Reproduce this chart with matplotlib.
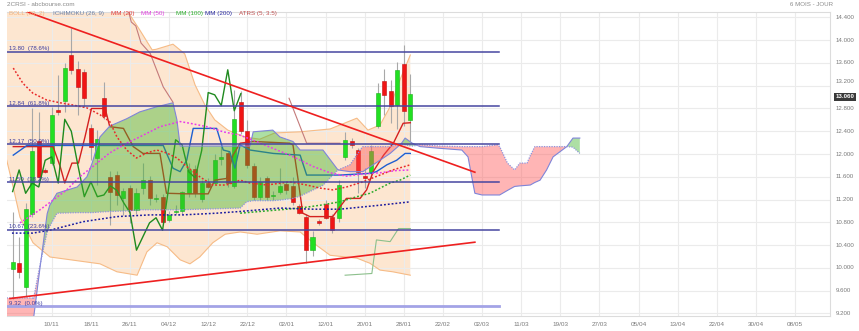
import numpy as np
import matplotlib
matplotlib.use("Agg")
import matplotlib.pyplot as plt
import matplotlib.transforms as mtransforms

plt.rcParams['font.family'] = ['Liberation Sans', 'DejaVu Sans']

# daily candles (index 0 = first session shown)
opens = [9.98, 10.08, 9.67, 10.94, 12.22, 11.71, 11.84, 12.76, 12.93, 13.74,
         13.49, 13.45, 12.46, 11.93, 12.98, 11.60, 11.63, 11.23, 11.40, 11.02,
         11.40, 11.54, 11.21, 11.25, 10.84, 10.98, 10.99, 11.31, 11.73, 11.21,
         11.49, 11.49, 11.92, 12.01, 11.43, 12.92, 12.41, 11.79, 11.25, 11.57,
         11.26, 11.34, 11.47, 11.44, 11.09, 10.90, 10.31, 10.81, 11.13, 10.90,
         10.87, 11.95, 12.23, 12.07, 11.62, 11.66, 12.49, 13.29, 13.11, 12.87,
         13.59, 12.60]
highs = [10.98, 10.55, 11.14, 12.80, 12.74, 11.75, 12.83, 13.39, 13.60, 14.21,
         13.64, 13.50, 12.52, 12.42, 13.27, 11.70, 11.70, 11.40, 11.45, 11.40,
         11.84, 11.62, 11.30, 11.30, 11.00, 11.10, 11.35, 11.85, 11.80, 11.55,
         11.58, 12.00, 12.15, 12.05, 13.12, 13.10, 12.60, 11.85, 11.60, 11.62,
         11.35, 11.75, 11.52, 11.60, 11.12, 10.95, 10.65, 10.85, 11.20, 10.95,
         11.55, 12.39, 12.28, 12.10, 11.75, 12.15, 13.25, 13.49, 13.30, 13.62,
         13.92, 13.40]
lows = [9.45, 9.82, 9.49, 10.90, 11.43, 11.66, 11.80, 12.69, 12.74, 13.40,
        12.69, 12.83, 11.90, 11.46, 12.62, 10.75, 11.10, 10.93, 10.79, 10.95,
        11.30, 11.10, 11.15, 10.78, 10.80, 10.95, 10.95, 11.25, 11.25, 11.15,
        11.40, 11.45, 11.80, 11.42, 11.40, 12.35, 11.75, 11.20, 11.20, 11.20,
        11.20, 11.30, 11.30, 11.10, 10.95, 10.08, 10.20, 10.76, 10.85, 10.62,
        10.81, 11.90, 12.10, 11.31, 11.40, 11.57, 12.45, 12.69, 12.55, 12.44,
        12.50, 12.22]
closes = [10.11, 9.92, 11.03, 12.05, 11.60, 11.69, 12.69, 12.74, 13.52, 13.48,
          13.18, 12.98, 12.13, 12.26, 12.66, 11.34, 11.28, 11.35, 11.02, 11.31,
          11.54, 11.22, 11.23, 10.80, 10.93, 10.99, 11.34, 11.72, 11.31, 11.49,
          11.42, 11.89, 11.95, 11.49, 12.61, 12.40, 11.81, 11.25, 11.51, 11.25,
          11.28, 11.44, 11.36, 11.15, 10.97, 10.31, 10.55, 10.79, 10.88, 10.66,
          11.46, 12.25, 12.16, 11.69, 11.58, 12.06, 13.08, 13.04, 12.85, 13.48,
          12.76, 13.06]
last_price = 13.06

tick_labels = ['10/11', '18/11', '26/11', '04/12', '12/12', '22/12', '02/01', '12/01',
               '20/01', '28/01', '22/02', '02/03', '11/03', '19/03', '27/03', '05/04',
               '13/04', '22/04', '30/04', '08/05']
y_labels = [9.2, 9.6, 10.0, 10.4, 10.8, 11.2, 11.6, 12.0, 12.4, 12.8, 13.2, 13.6, 14.0, 14.4]

# bollinger (20, 2)
bb_up_x = [-0.9, 10, 17.0, 19.5, 21.4, 22.0, 24.6, 26.4, 28.0, 29.5, 31.0, 33.0,
           35.6, 37.9, 40.2, 44.1, 48.7, 52.8, 54.5, 56.35, 57.9, 59.4, 61.0]
bb_up = [15.6, 15.2, 14.62, 14.18, 13.83, 13.84, 13.93, 13.76, 13.21, 12.86, 12.60, 12.42,
         12.30, 12.26, 12.37, 12.39, 12.44, 12.63, 12.42, 12.51, 12.83, 13.30, 13.74]
bb_lo_x = [-0.9, 0, 1.13, 3.13, 5.74, 13.4, 16.0, 19.1, 20.6, 22.15, 23.7, 25.7, 27.2,
           28.7, 30.7, 32.6, 34.9, 37.5, 41.0, 44.1, 46.1, 48.7, 52.8, 54.8, 56.35, 58.3, 61.0]
bb_lo = [11.89, 11.46, 10.89, 10.44, 10.19, 10.07, 9.93, 9.87, 10.28, 10.44, 10.37, 10.14, 10.07,
         10.19, 10.44, 10.59, 10.63, 10.59, 10.65, 10.63, 10.44, 10.22, 10.17, 10.08, 9.96, 9.93, 9.87]

# moving averages
mm20_x = [0.1, 1.6, 3.1, 5.2, 7.3, 9.3, 11.4, 13.4, 14.9, 16.0, 17.5, 19.0, 20.6, 22.1, 23.6, 25.2,
          26.7, 28.7, 30.7, 32.8, 34.9, 36.4, 39.0, 42.5, 45.1, 47.2, 49.1, 51.2, 53.7, 56.35, 58.3, 61.0]
mm20 = [13.51, 13.24, 13.07, 12.95, 12.90, 12.86, 12.81, 12.69, 12.57, 12.30, 12.07, 11.93, 12.02,
        12.07, 12.02, 11.93, 11.78, 11.60, 11.455, 11.455, 11.54, 11.49, 11.455, 11.51, 11.455,
        11.40, 11.37, 11.42, 11.51, 11.63, 11.72, 11.81]
mm50_x = [1.13, 4.2, 6.2, 8.3, 10.3, 12.3, 14.9, 17.5, 19.5, 22.6, 25.7, 27.2, 29.8, 32.3, 34.9,
          37.4, 39.9, 42.5, 43.6, 46.1, 48.7, 51.2, 53.7, 56.35, 58.9, 61.0]
mm50 = [10.79, 11.02, 11.19, 11.37, 11.60, 11.78, 12.02, 12.19, 12.30, 12.48, 12.57, 12.54, 12.48,
        12.39, 12.33, 12.22, 12.10, 11.98, 11.92, 11.78, 11.67, 11.61, 11.65, 11.67, 11.71, 11.72]
mm100_x = [34.9, 41.0, 44.1, 47.2, 50.2, 52.8, 54.8, 56.35, 57.9, 59.4, 61.0]
mm100 = [10.96, 11.02, 11.05, 11.10, 11.16, 11.25, 11.31, 11.40, 11.49, 11.54, 11.63]
mm200_x = [-0.1, 3.1, 5.7, 10.8, 16.0, 21.1, 26.1, 31.3, 34.9, 41.0, 46.1, 50.2, 53.7, 56.35, 61.0]
mm200 = [10.61, 10.61, 10.66, 10.81, 10.90, 10.93, 10.93, 10.96, 10.99, 11.05, 11.03, 11.03,
         11.07, 11.10, 11.16]

# ichimoku (26, 9)
tenkan_x = [0.1, 6.2, 7.3, 8.0, 9.1, 10.1, 11.1, 12.1, 14.2, 14.9, 17.0, 18.5, 20.0, 22.6, 23.6,
            26.7, 30.0, 31.0, 32.8, 33.8, 34.9, 36.9, 42.5, 43.0, 43.8, 44.5, 45.6, 49.1, 50.2,
            51.2, 53.3, 54.3, 55.3, 56.9, 58.4, 59.9, 61.0]
tenkan = [12.13, 12.13, 11.78, 11.49, 11.84, 11.84, 12.30, 12.80, 12.80, 12.48, 12.45, 12.13, 12.01,
          12.01, 11.31, 11.30, 11.30, 11.54, 11.57, 11.98, 12.19, 12.22, 12.19, 12.16, 11.54, 10.96,
          10.90, 10.90, 11.07, 11.22, 11.22, 11.37, 11.69, 11.98, 12.19, 12.54, 12.55]
kijun_x = [0.1, 2.2, 23.1, 24.6, 25.7, 26.7, 27.7, 31.3, 32.3, 33.3, 34.1, 34.9, 36.4, 40.0, 44.1,
           45.1, 50.2, 54.8, 55.8, 57.4, 58.9, 60.2, 61.0]
kijun = [11.98, 12.15, 12.15, 11.75, 11.69, 11.89, 12.45, 12.45, 12.07, 12.04, 11.75, 12.16, 12.07,
         12.01, 11.98, 11.63, 11.63, 11.66, 11.69, 11.81, 11.89, 12.01, 12.01]
cloud_x = [-0.9, 3.0, 3.2, 4.2, 5.3, 5.7, 6.8, 9.9, 11.4, 12.2, 13.4, 14.9, 17.5, 19.5, 22.1, 24.6,
           25.2, 25.7, 34.9, 35.9, 36.4, 36.9, 39.9, 41.0, 43.0, 44.1, 47.6, 49.9, 51.75, 53.3, 53.7,
           55.3, 57.9, 59.6, 60.2, 61.3, 62.5, 65.5, 68.9, 69.85, 70.6, 70.9, 72.0, 74.4, 74.7, 75.9,
           77.0, 77.8, 78.9, 79.4, 80.1, 80.9, 81.9, 82.9, 83.6, 85.0, 85.95, 87.0]
senkou_a = [9.0, 9.0, 9.1, 10.0, 10.95, 11.10, 11.31, 11.42, 11.60, 11.84, 12.30, 12.49, 12.62,
            12.74, 12.83, 12.90, 12.60, 12.14, 12.14, 12.14, 12.14, 12.39, 12.42, 12.30, 12.22, 12.07,
            12.07, 11.72, 11.69, 11.69, 11.69, 11.81, 12.01, 12.18, 12.28, 12.19, 12.13, 12.10, 12.07,
            11.95, 11.49, 11.31, 11.28, 11.28, 11.28, 11.36, 11.43, 11.44, 11.45, 11.455, 11.50, 11.54,
            11.72, 11.95, 12.01, 12.13, 12.28, 12.28]
senkou_b = [9.47, 9.47, 9.45, 10.05, 10.63, 10.73, 10.96, 10.97, 10.97, 10.97, 10.98, 10.99, 11.00,
            11.02, 11.02, 11.02, 11.02, 11.02, 11.05, 11.16, 11.17, 11.18, 11.18, 11.19, 11.22, 11.26,
            11.45, 11.72, 11.81, 12.07, 12.13, 12.13, 12.13, 12.18, 12.16, 12.14, 12.16, 12.14, 12.13,
            12.13, 12.13, 12.13, 12.13, 12.16, 12.13, 11.84, 11.72, 11.84, 11.84, 11.97, 12.13, 12.13,
            12.13, 12.13, 12.13, 12.13, 12.12, 12.01]
chikou_shift = 26

# ATR stops (5, 3.5)
atrs_up_x = [17.55, 17.85, 18.2, 18.9, 19.7, 21.1, 23.1, 24.6, np.nan, 42.4, 45.1, 50.2]
atrs_up = [14.56, 14.48, 14.32, 14.25, 13.95, 13.77, 13.18, 12.91, np.nan, 12.98, 12.19, 12.19]
atrs_lo_x = [51.0, 55.1, 55.8, 57.9, 59.2, 61.0]
atrs_lo = [9.87, 9.90, 10.49, 10.46, 10.69, 10.69]

# drawn levels
fib_levels = [13.80, 12.84, 12.17, 11.50, 10.67, 9.32]
fib_pcts = ['78.6%', '61.8%', '50.0%', '38.2%', '23.6%', '0.0%']
fib_span = [-0.86, 74.6]
trend_hi_x = [0.0, 70.9]
trend_hi = [14.59, 11.68]
trend_lo_x = [-0.4, 70.9]
trend_lo = [9.46, 10.45]

W, H = 859, 331
fig = plt.figure(figsize=(W / 100, H / 100), dpi=100)
ax = fig.add_axes([7 / W, 15 / H, 823 / W, 304.3 / H])
ax.set_xlim(-0.86, 125.37)
ax.set_ylim(9.153, 14.501)

idx = np.arange(len(closes))
tick_pos = [6 + 6 * k for k in range(len(tick_labels))]

# grid
for v in y_labels:
    ax.axhline(v, color='#ebebeb', lw=0.8, zorder=0.6)
for t in tick_pos:
    ax.axvline(t, color='#ebebeb', lw=0.8, zorder=0.6)

# bollinger band area
ax.fill(np.r_[bb_up_x, bb_lo_x[::-1]], np.r_[bb_up, bb_lo[::-1]],
        color='#fde6d0', lw=0, zorder=0.5)
ax.plot(bb_up_x, bb_up, color='#f6bb86', lw=0.8, zorder=1)
ax.plot(bb_lo_x, bb_lo, color='#f6bb86', lw=0.8, zorder=1)

# candles
o = np.array(opens)
c = np.array(closes)
ax.vlines(idx, lows, highs, color='#a8a8a8', lw=0.8, zorder=2)
up = c >= o
body_lo = np.minimum(o, c)
body_h = np.maximum(np.abs(c - o), 0.025)
ax.bar(idx[up], body_h[up], bottom=body_lo[up], width=0.62,
       color='#22e022', edgecolor='#1bb01b', lw=0.4, zorder=3)
ax.bar(idx[~up], body_h[~up], bottom=body_lo[~up], width=0.62,
       color='#f01515', edgecolor='#c01010', lw=0.4, zorder=3)

# ichimoku lines under the cloud
ax.plot(tenkan_x, tenkan, color='#d42020', lw=1.0, zorder=3.5)
ax.plot(kijun_x, kijun, color='#1f5fd0', lw=1.0, zorder=3.5)
ax.plot(idx[:-chikou_shift], c[chikou_shift:], color='#1f8a1f', lw=1.0, zorder=3.5)

# cloud (semi-transparent, drawn over candles)
sa = np.array(senkou_a)
sb = np.array(senkou_b)
ax.fill_between(cloud_x, sa, sb, where=sa >= sb, interpolate=True,
                color='#3cb428', alpha=0.42, lw=0, zorder=4)
ax.fill_between(cloud_x, sa, sb, where=sa < sb, interpolate=True,
                color='#ff5050', alpha=0.42, lw=0, zorder=4)
ax.plot(cloud_x, senkou_a, color='#7f84d8', lw=0.8, zorder=4.5)
ax.plot(cloud_x, senkou_b, color='#8e93de', lw=0.9, ls=(0, (1, 1)), zorder=4.5)

# moving averages
dots = (0, (1.2, 1.3))
ax.plot(mm20_x, mm20, color='#e82a2a', lw=1.1, ls=dots, zorder=5)
ax.plot(mm50_x, mm50, color='#e83ae8', lw=1.1, ls=dots, zorder=5)
ax.plot(mm100_x, mm100, color='#2aaa2a', lw=1.1, ls=dots, zorder=5)
ax.plot(mm200_x, mm200, color='#1a1aa0', lw=1.1, ls=dots, zorder=5)

# ATR stops
ax.plot(atrs_up_x, atrs_up, color='#c47a7a', lw=0.8, zorder=5)
ax.plot(atrs_lo_x, atrs_lo, color='#8cc08c', lw=0.8, zorder=5)

# fibonacci retracements
for lvl, pct in zip(fib_levels, fib_pcts):
    light = lvl == fib_levels[-1]
    ax.plot(fib_span, [lvl, lvl], color='#a3a3e6' if light else '#4646a0',
            lw=2.0 if light else 1.1, zorder=6)
    ax.text(-0.55, lvl + 0.006, '{:.2f}  ({})'.format(lvl, pct), fontsize=4.4,
            color='#3c3ca0', va='bottom', ha='left', zorder=7)

# trend lines
ax.plot(trend_hi_x, trend_hi, color='#ee2020', lw=1.2, zorder=7)
ax.plot(trend_lo_x, trend_lo, color='#ee2020', lw=1.2, zorder=7)

# axes styling
for s in ax.spines.values():
    s.set_color('#dcdcdc')
    s.set_linewidth(0.8)
ax.spines['left'].set_visible(False)
ax.set_yticks([])
ax.set_xticks(tick_pos)
ax.set_xticklabels(tick_labels)
ax.tick_params(axis='x', length=0, pad=4, labelsize=4.6, labelcolor='#7a7a7a')

trans = mtransforms.blended_transform_factory(ax.transAxes, ax.transData)
for v in y_labels:
    yv = v + 0.07 if v == 13.2 else v
    ax.text(1.0065, yv, '{:.3f}'.format(v), transform=trans, fontsize=4.4,
            color='#7a7a7a', va='center', ha='left')
ax.text(1.0065, last_price - 0.05, '{:.3f}'.format(last_price), transform=trans,
        fontsize=4.4, color='white', weight='bold', va='center', ha='left',
        bbox=dict(boxstyle='square,pad=0.25', fc='#3a3a3a', ec='none'))

# header and legend
fig.text(7 / W, 1 - 5 / H, '2CRSI - abcbourse.com', fontsize=4.6, color='#8a8a8a',
         va='center', ha='left')
fig.text(833 / W, 1 - 5 / H, '6 MOIS - JOUR', fontsize=4.4, color='#8a8a8a',
         va='center', ha='right')
legend = [('BOLL (20, 2)', '#f2b27c', 9.3), ('ICHIMOKU (26, 9)', '#6a7fa6', 53),
          ('MM (20)', '#e03a3a', 110.7), ('MM (50)', '#e040e0', 141),
          ('MM (100)', '#2eb02e', 176), ('MM (200)', '#2a2aa0', 205),
          ('ATRS (5, 3.5)', '#c05050', 239)]
for txt, col, px in legend:
    fig.text(px / W, 1 - 14 / H, txt, fontsize=4.5, color=col, va='center', ha='left')

fig.savefig('out.png', dpi=100)
